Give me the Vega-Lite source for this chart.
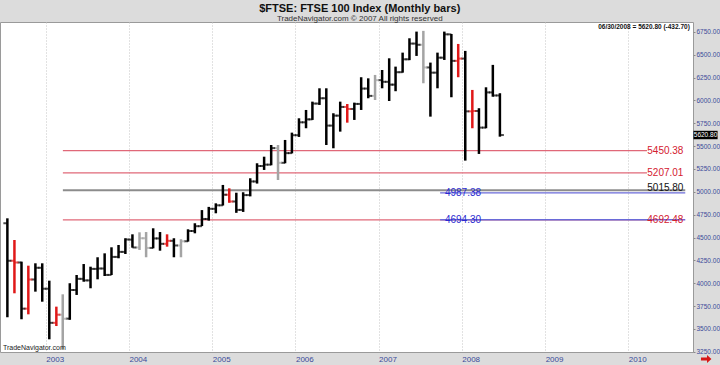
{
  "$schema": "https://vega.github.io/schema/vega-lite/v6.json",
  "width": 693,
  "height": 330,
  "autosize": {"type": "none"},
  "padding": {"left": 0, "top": 22, "right": 27, "bottom": 13},
  "background": "#dcdcdc",
  "config": {
    "view": {"fill": "white", "stroke": "#9a9a9a", "strokeWidth": 1},
    "font": "Liberation Sans",
    "text": {"font": "Liberation Sans"},
    "axisY": {"labelOverlap": false, "labelSeparation": -40}
  },
  "title": {
    "text": "$FTSE:  FTSE 100 Index  (Monthly bars)",
    "subtitle": "TradeNavigator.com © 2007 All rights reserved",
    "fontSize": 11,
    "fontWeight": "bold",
    "color": "#111111",
    "subtitleFontSize": 8,
    "subtitleColor": "#333333",
    "subtitlePadding": 1,
    "anchor": "middle",
    "frame": "bounds",
    "offset": -1
  },
  "datasets": {
    "bars": [
      {"d": "2002-07-01", "o": 4656, "h": 4710, "l": 3628, "c": 4246, "s": "base"},
      {"d": "2002-08-01", "o": 4246, "h": 4473, "l": 3890, "c": 4227, "s": "alert"},
      {"d": "2002-09-01", "o": 4227, "h": 4236, "l": 3606, "c": 3722, "s": "base"},
      {"d": "2002-10-01", "o": 3722, "h": 4192, "l": 3660, "c": 4040, "s": "alert"},
      {"d": "2002-11-01", "o": 4040, "h": 4218, "l": 3908, "c": 4169, "s": "base"},
      {"d": "2002-12-01", "o": 4169, "h": 4218, "l": 3798, "c": 3940, "s": "base"},
      {"d": "2003-01-01", "o": 3940, "h": 4028, "l": 3387, "c": 3567, "s": "base"},
      {"d": "2003-02-01", "o": 3567, "h": 3744, "l": 3532, "c": 3656, "s": "alert"},
      {"d": "2003-03-01", "o": 3656, "h": 3879, "l": 3277, "c": 3613, "s": "muted"},
      {"d": "2003-04-01", "o": 3613, "h": 4000, "l": 3600, "c": 3926, "s": "base"},
      {"d": "2003-05-01", "o": 3926, "h": 4090, "l": 3872, "c": 4048, "s": "base"},
      {"d": "2003-06-01", "o": 4048, "h": 4210, "l": 4017, "c": 4031, "s": "base"},
      {"d": "2003-07-01", "o": 4031, "h": 4181, "l": 3945, "c": 4157, "s": "base"},
      {"d": "2003-08-01", "o": 4157, "h": 4284, "l": 4043, "c": 4161, "s": "base"},
      {"d": "2003-09-01", "o": 4161, "h": 4327, "l": 4079, "c": 4091, "s": "base"},
      {"d": "2003-10-01", "o": 4091, "h": 4393, "l": 4090, "c": 4288, "s": "base"},
      {"d": "2003-11-01", "o": 4288, "h": 4418, "l": 4273, "c": 4343, "s": "base"},
      {"d": "2003-12-01", "o": 4343, "h": 4492, "l": 4320, "c": 4477, "s": "base"},
      {"d": "2004-01-01", "o": 4477, "h": 4535, "l": 4389, "c": 4391, "s": "base"},
      {"d": "2004-02-01", "o": 4391, "h": 4557, "l": 4364, "c": 4492, "s": "muted"},
      {"d": "2004-03-01", "o": 4492, "h": 4560, "l": 4284, "c": 4386, "s": "muted"},
      {"d": "2004-04-01", "o": 4386, "h": 4601, "l": 4382, "c": 4490, "s": "base"},
      {"d": "2004-05-01", "o": 4490, "h": 4560, "l": 4356, "c": 4431, "s": "base"},
      {"d": "2004-06-01", "o": 4431, "h": 4535, "l": 4400, "c": 4464, "s": "alert"},
      {"d": "2004-07-01", "o": 4464, "h": 4492, "l": 4284, "c": 4413, "s": "base"},
      {"d": "2004-08-01", "o": 4413, "h": 4481, "l": 4284, "c": 4459, "s": "muted"},
      {"d": "2004-09-01", "o": 4459, "h": 4590, "l": 4455, "c": 4571, "s": "base"},
      {"d": "2004-10-01", "o": 4571, "h": 4656, "l": 4546, "c": 4624, "s": "base"},
      {"d": "2004-11-01", "o": 4624, "h": 4800, "l": 4625, "c": 4703, "s": "base"},
      {"d": "2004-12-01", "o": 4703, "h": 4835, "l": 4685, "c": 4814, "s": "base"},
      {"d": "2005-01-01", "o": 4814, "h": 4874, "l": 4765, "c": 4852, "s": "base"},
      {"d": "2005-02-01", "o": 4852, "h": 5075, "l": 4850, "c": 4968, "s": "base"},
      {"d": "2005-03-01", "o": 4968, "h": 5038, "l": 4880, "c": 4894, "s": "alert"},
      {"d": "2005-04-01", "o": 4894, "h": 4990, "l": 4770, "c": 4802, "s": "base"},
      {"d": "2005-05-01", "o": 4802, "h": 4995, "l": 4780, "c": 4964, "s": "base"},
      {"d": "2005-06-01", "o": 4964, "h": 5148, "l": 4950, "c": 5113, "s": "base"},
      {"d": "2005-07-01", "o": 5113, "h": 5312, "l": 5090, "c": 5282, "s": "base"},
      {"d": "2005-08-01", "o": 5282, "h": 5384, "l": 5239, "c": 5297, "s": "base"},
      {"d": "2005-09-01", "o": 5297, "h": 5512, "l": 5290, "c": 5478, "s": "base"},
      {"d": "2005-10-01", "o": 5478, "h": 5512, "l": 5129, "c": 5317, "s": "muted"},
      {"d": "2005-11-01", "o": 5317, "h": 5567, "l": 5312, "c": 5423, "s": "base"},
      {"d": "2005-12-01", "o": 5423, "h": 5647, "l": 5420, "c": 5619, "s": "base"},
      {"d": "2006-01-01", "o": 5619, "h": 5804, "l": 5600, "c": 5760, "s": "base"},
      {"d": "2006-02-01", "o": 5760, "h": 5895, "l": 5695, "c": 5792, "s": "base"},
      {"d": "2006-03-01", "o": 5792, "h": 5986, "l": 5786, "c": 5965, "s": "base"},
      {"d": "2006-04-01", "o": 5965, "h": 6132, "l": 5950, "c": 6023, "s": "base"},
      {"d": "2006-05-01", "o": 6023, "h": 6132, "l": 5512, "c": 5724, "s": "base"},
      {"d": "2006-06-01", "o": 5724, "h": 5859, "l": 5476, "c": 5833, "s": "base"},
      {"d": "2006-07-01", "o": 5833, "h": 5986, "l": 5658, "c": 5928, "s": "base"},
      {"d": "2006-08-01", "o": 5928, "h": 5960, "l": 5756, "c": 5906, "s": "alert"},
      {"d": "2006-09-01", "o": 5906, "h": 5975, "l": 5786, "c": 5961, "s": "base"},
      {"d": "2006-10-01", "o": 5961, "h": 6253, "l": 5895, "c": 6129, "s": "base"},
      {"d": "2006-11-01", "o": 6129, "h": 6241, "l": 6023, "c": 6049, "s": "base"},
      {"d": "2006-12-01", "o": 6049, "h": 6278, "l": 6004, "c": 6221, "s": "muted"},
      {"d": "2007-01-01", "o": 6221, "h": 6332, "l": 6132, "c": 6203, "s": "base"},
      {"d": "2007-02-01", "o": 6203, "h": 6460, "l": 5993, "c": 6172, "s": "base"},
      {"d": "2007-03-01", "o": 6172, "h": 6369, "l": 6100, "c": 6308, "s": "base"},
      {"d": "2007-04-01", "o": 6308, "h": 6522, "l": 6303, "c": 6449, "s": "base"},
      {"d": "2007-05-01", "o": 6449, "h": 6679, "l": 6440, "c": 6621, "s": "base"},
      {"d": "2007-06-01", "o": 6621, "h": 6752, "l": 6486, "c": 6608, "s": "base"},
      {"d": "2007-07-01", "o": 6608, "h": 6760, "l": 6187, "c": 6360, "s": "muted"},
      {"d": "2007-08-01", "o": 6360, "h": 6413, "l": 5822, "c": 6303, "s": "base"},
      {"d": "2007-09-01", "o": 6303, "h": 6522, "l": 6132, "c": 6467, "s": "base"},
      {"d": "2007-10-01", "o": 6467, "h": 6752, "l": 6442, "c": 6722, "s": "base"},
      {"d": "2007-11-01", "o": 6722, "h": 6726, "l": 6034, "c": 6432, "s": "base"},
      {"d": "2007-12-01", "o": 6432, "h": 6617, "l": 6253, "c": 6457, "s": "alert"},
      {"d": "2008-01-01", "o": 6457, "h": 6541, "l": 5341, "c": 5880, "s": "base"},
      {"d": "2008-02-01", "o": 5880, "h": 6114, "l": 5695, "c": 5884, "s": "alert"},
      {"d": "2008-03-01", "o": 5884, "h": 5914, "l": 5414, "c": 5702, "s": "base"},
      {"d": "2008-04-01", "o": 5702, "h": 6143, "l": 5695, "c": 6087, "s": "base"},
      {"d": "2008-05-01", "o": 6087, "h": 6388, "l": 6040, "c": 6053.5, "s": "base"},
      {"d": "2008-06-01", "o": 6053.5, "h": 6078, "l": 5603, "c": 5620.8, "s": "base"}
    ],
    "levels": [
      {"v": 5450.38, "kind": "retrace", "from": "2003-03-17", "to": "2010-03-24", "label": "5450.38"},
      {"v": 5207.01, "kind": "retrace", "from": "2003-03-17", "to": "2010-03-24", "label": "5207.01"},
      {"v": 4692.48, "kind": "retrace", "from": "2003-03-17", "to": "2010-03-24", "label": "4692.48"},
      {"v": 5015.8, "kind": "pivot", "from": "2003-03-17", "to": "2010-09-08", "label": "5015.80"},
      {"v": 4987.38, "kind": "projection", "from": "2007-09-28", "to": "2010-09-08", "label": "4987.38"},
      {"v": 4694.3, "kind": "projection", "from": "2007-09-28", "to": "2010-09-08", "label": "4694.30"}
    ],
    "one": [{}]
  },
  "layer": [
    {
      "data": {"name": "levels"},
      "transform": [{"filter": "datum.kind === 'retrace'"}],
      "mark": {"type": "rule", "stroke": "#e06878", "strokeWidth": 1.3},
      "encoding": {
        "x": {"field": "from", "type": "temporal", "title": null, "scale": {"type": "utc", "domain": [{"year": 2002, "month": 6, "date": 14, "utc": true}, {"year": 2010, "month": 10, "date": 12, "utc": true}]},
          "axis": {
            "orient": "bottom",
            "values": [
              {"year": 2003, "month": 1, "date": 1, "utc": true},
              {"year": 2004, "month": 1, "date": 1, "utc": true},
              {"year": 2005, "month": 1, "date": 1, "utc": true},
              {"year": 2006, "month": 1, "date": 1, "utc": true},
              {"year": 2007, "month": 1, "date": 1, "utc": true},
              {"year": 2008, "month": 1, "date": 1, "utc": true},
              {"year": 2009, "month": 1, "date": 1, "utc": true},
              {"year": 2010, "month": 1, "date": 1, "utc": true}
            ],
            "format": "%Y",
            "title": null,
            "labelAlign": "left",
            "labelBaseline": "top",
            "labelPadding": 3,
            "labelFontSize": 8,
            "labelColor": "#3a4a9a",
            "labelOverlap": false,
            "labelFlush": false,
            "ticks": false,
            "domain": false,
            "grid": true,
            "gridColor": "#c4c4c4",
            "gridDash": [1, 2],
            "gridWidth": 1
          }
        },
        "x2": {"field": "to"},
        "y": {"field": "v", "type": "quantitative", "title": null, "scale": {"type": "linear", "domain": [3248, 6857], "nice": false, "zero": false},
          "axis": {
            "orient": "right",
            "values": [3250, 3500, 3750, 4000, 4250, 4500, 4750, 5000, 5250, 5500, 5750, 6000, 6250, 6500, 6750],
            "tickCount": 15,
            "format": ".2f",
            "title": null,
            "labelFontSize": 6.5,
            "labelColor": "#3a4a9a",
            "labelPadding": 1,
            "labelOverlap": false,
            "labelSeparation": -40,
            "labelFlush": false,
            "labelBound": false,
            "tickSize": 2,
            "tickColor": "#8a8a8a",
            "domain": true,
            "domainColor": "#9a9a9a",
            "domainDash": [1, 2],
            "grid": false
          }
        }
      }
    },
    {
      "data": {"name": "levels"},
      "transform": [{"filter": "datum.kind === 'pivot'"}],
      "mark": {"type": "rule", "stroke": "#8c8c8c", "strokeWidth": 2},
      "encoding": {
        "x": {"field": "from", "type": "temporal", "title": null},
        "x2": {"field": "to"},
        "y": {"field": "v", "type": "quantitative", "title": null}
      }
    },
    {
      "data": {"name": "levels"},
      "transform": [{"filter": "datum.kind === 'projection'"}],
      "mark": {"type": "rule", "stroke": "#6a6ad8", "strokeWidth": 1.3},
      "encoding": {
        "x": {"field": "from", "type": "temporal", "title": null},
        "x2": {"field": "to"},
        "y": {"field": "v", "type": "quantitative", "title": null}
      }
    },
    {
      "data": {"name": "bars"},
      "mark": {"type": "rule", "strokeWidth": 2.5, "xOffset": 3.5},
      "encoding": {
        "x": {"field": "d", "type": "temporal", "title": null},
        "y": {"field": "l", "type": "quantitative", "title": null},
        "y2": {"field": "h"},
        "color": {"field": "s", "type": "nominal", "scale": {"domain": ["base", "alert", "muted"], "range": ["#000000", "#e01818", "#a4a4a4"]}, "legend": null}
      }
    },
    {
      "data": {"name": "bars"},
      "mark": {"type": "tick", "orient": "horizontal", "size": 4, "thickness": 2, "xOffset": 1.5},
      "encoding": {
        "x": {"field": "d", "type": "temporal", "title": null},
        "y": {"field": "o", "type": "quantitative", "title": null},
        "color": {"field": "s", "type": "nominal", "legend": null}
      }
    },
    {
      "data": {"name": "bars"},
      "mark": {"type": "tick", "orient": "horizontal", "size": 4, "thickness": 2, "xOffset": 5.5},
      "encoding": {
        "x": {"field": "d", "type": "temporal", "title": null},
        "y": {"field": "c", "type": "quantitative", "title": null},
        "color": {"field": "s", "type": "nominal", "legend": null}
      }
    },
    {
      "data": {"name": "levels"},
      "transform": [{"filter": "datum.kind === 'retrace'"}],
      "mark": {"type": "text", "align": "right", "baseline": "middle", "fontSize": 10, "color": "#d42030"},
      "encoding": {
        "x": {"datum": {"year": 2010, "month": 8, "date": 31, "utc": true}, "type": "temporal", "title": null},
        "y": {"field": "v", "type": "quantitative", "title": null},
        "text": {"field": "label"}
      }
    },
    {
      "data": {"name": "levels"},
      "transform": [{"filter": "datum.kind === 'pivot'"}],
      "mark": {"type": "text", "align": "right", "baseline": "middle", "fontSize": 10, "color": "#111111", "dy": -2},
      "encoding": {
        "x": {"datum": {"year": 2010, "month": 8, "date": 31, "utc": true}, "type": "temporal", "title": null},
        "y": {"field": "v", "type": "quantitative", "title": null},
        "text": {"field": "label"}
      }
    },
    {
      "data": {"name": "levels"},
      "transform": [{"filter": "datum.kind === 'projection'"}],
      "mark": {"type": "text", "align": "left", "baseline": "middle", "fontSize": 10, "color": "#2a2ad0"},
      "encoding": {
        "x": {"datum": {"year": 2007, "month": 10, "date": 19, "utc": true}, "type": "temporal", "title": null},
        "y": {"field": "v", "type": "quantitative", "title": null},
        "text": {"field": "label"}
      }
    },
    {
      "data": {"name": "one"},
      "mark": {"type": "text", "align": "right", "baseline": "middle", "fontSize": 6.5, "fontWeight": "bold", "color": "#111111"},
      "encoding": {
        "x": {"datum": {"year": 2010, "month": 9, "date": 28, "utc": true}, "type": "temporal", "title": null},
        "y": {"datum": 6803, "type": "quantitative", "title": null},
        "text": {"value": "06/30/2008 = 5620.80 (-432.70)"}
      }
    },
    {
      "data": {"name": "one"},
      "mark": {"type": "text", "align": "left", "baseline": "middle", "fontSize": 7, "color": "#222222"},
      "encoding": {
        "x": {"datum": {"year": 2002, "month": 6, "date": 27, "utc": true}, "type": "temporal", "title": null},
        "y": {"datum": 3290, "type": "quantitative", "title": null},
        "text": {"value": "TradeNavigator.com"}
      }
    },
    {
      "data": {"name": "one"},
      "mark": {"type": "rect", "color": "#000000"},
      "encoding": {
        "x": {"datum": {"year": 2010, "month": 10, "date": 14, "utc": true}, "type": "temporal", "title": null},
        "x2": {"datum": {"year": 2011, "month": 1, "date": 28, "utc": true}},
        "y": {"datum": 5575, "type": "quantitative", "title": null},
        "y2": {"datum": 5667}
      }
    },
    {
      "data": {"name": "one"},
      "mark": {"type": "text", "align": "center", "baseline": "middle", "fontSize": 6.5, "color": "#ffffff"},
      "encoding": {
        "x": {"datum": {"year": 2010, "month": 12, "date": 6, "utc": true}, "type": "temporal", "title": null},
        "y": {"datum": 5621, "type": "quantitative", "title": null},
        "text": {"value": "5620.80"}
      }
    },
    {
      "data": {"name": "one"},
      "mark": {"type": "point", "shape": "M-1,-0.3H0.15V-0.75L1,0L0.15,0.75V0.3H-1Z", "size": 110, "filled": true, "color": "#d81818", "opacity": 1},
      "encoding": {
        "x": {"datum": {"year": 2010, "month": 12, "date": 9, "utc": true}, "type": "temporal", "title": null},
        "y": {"datum": 3171, "type": "quantitative", "title": null}
      }
    }
  ]
}
